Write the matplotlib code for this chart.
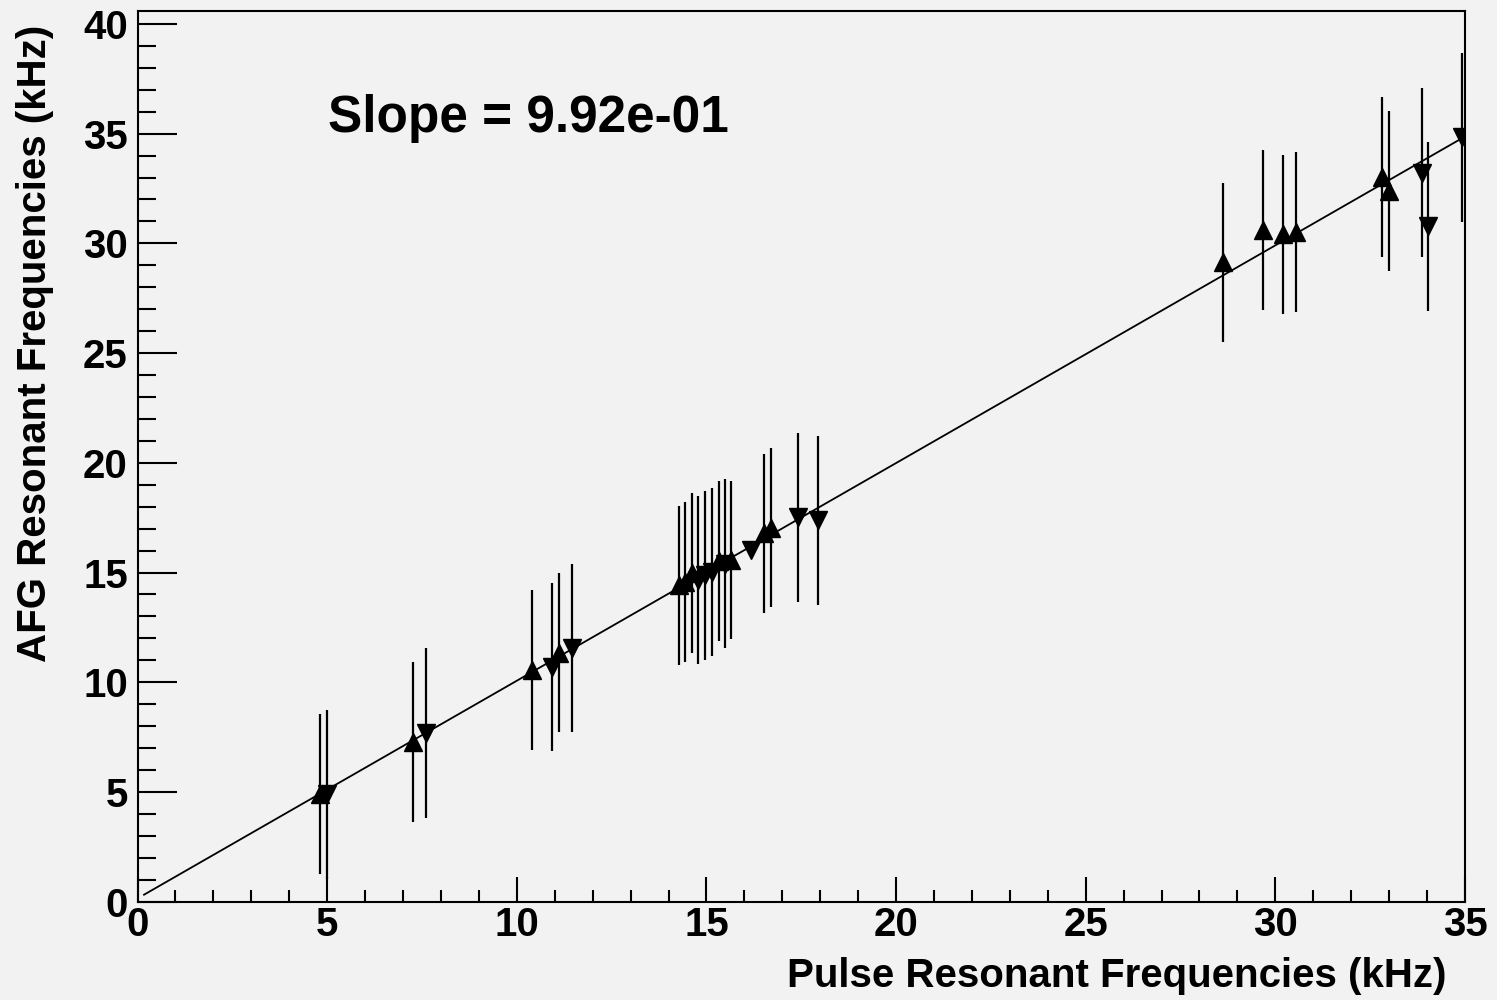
import numpy as np
import matplotlib.pyplot as plt

plt.rcParams['font.family'] = ['Liberation Sans', 'DejaVu Sans']
plt.rcParams['font.weight'] = 'bold'

# puntos "triangulo arriba"
x_up = [4.82, 7.26, 10.40, 11.11, 14.27, 14.44, 14.62, 15.32, 15.65, 16.53, 16.71,
        28.62, 29.68, 30.19, 30.55, 32.82, 33.01]
y_up = [4.91, 7.28, 10.56, 11.34, 14.41, 14.56, 14.98, 15.52, 15.57, 16.79, 17.04,
        29.13, 30.62, 30.42, 30.52, 33.03, 32.38]
e_up = [3.63, 3.63, 3.63, 3.62, 3.63, 3.64, 3.64, 3.63, 3.62, 3.62, 3.63,
        3.64, 3.64, 3.63, 3.64, 3.64, 3.65]

# puntos "triangulo abajo"
x_dn = [4.99, 7.60, 10.93, 11.46, 14.79, 14.97, 15.15, 15.49, 16.18, 17.41, 17.94,
        33.88, 34.03, 34.92]
y_dn = [4.90, 7.68, 10.69, 11.57, 14.66, 14.88, 15.03, 15.40, 16.03, 17.51, 17.38,
        33.23, 30.79, 34.83]
e_dn = [3.85, 3.86, 3.84, 3.84, 3.84, 3.85, 3.84, 3.85, 0.0, 3.84, 3.86,
        3.86, 3.85, 3.84]

slope = 0.992
intercept = 0.15
fit_x = [0.17, 35.0]

bg = '#f2f2f2'
fig = plt.figure(figsize=(14.97, 10), dpi=100, facecolor=bg)
ax = fig.add_axes([0.0919, 0.0983, 0.9786 - 0.0919, 0.989 - 0.0983])
ax.set_facecolor(bg)

xf = np.array(fit_x)
ax.plot(xf, slope * xf + intercept, color='black', lw=1.3, zorder=2)

ax.errorbar(x_up, y_up, yerr=e_up, fmt='^', color='black', ms=13.5, elinewidth=1.6,
            capsize=0, zorder=3)
ax.errorbar(x_dn, y_dn, yerr=e_dn, fmt='v', color='black', ms=13.5, elinewidth=1.6,
            capsize=0, zorder=3)

ax.set_xlim(0, 35)
ax.set_ylim(0, 40.59)
ax.set_xticks(np.arange(0, 36, 5))
ax.set_yticks(np.arange(0, 41, 5))
ax.set_xticks(np.arange(0, 36, 1), minor=True)
ax.set_yticks(np.arange(0, 41, 1), minor=True)
ax.tick_params(which='major', axis='x', length=18, width=1.5, direction='in', labelsize=29, pad=3)
ax.tick_params(which='minor', axis='x', length=9, width=1.5, direction='in')
ax.tick_params(which='major', axis='y', length=28, width=1.5, direction='in', labelsize=29, pad=7)
ax.tick_params(which='minor', axis='y', length=13, width=1.5, direction='in')
for s in ax.spines.values():
    s.set_linewidth(1.5)

ax.set_xlabel('Pulse Resonant Frequencies (kHz)', fontsize=29, fontweight='bold')
ax.xaxis.set_label_coords(0.986, -0.083)
ax.xaxis.label.set_ha('right')
ax.xaxis.label.set_va('center')
ax.set_ylabel('AFG Resonant Frequencies (kHz)', fontsize=29, fontweight='bold')
ax.yaxis.set_label_coords(-0.077, 0.985)
ax.yaxis.label.set_ha('right')
ax.yaxis.label.set_va('center')

ax.text(5.03, 35.7, 'Slope = %.2e' % slope, fontsize=37, fontweight='bold',
        ha='left', va='center')

fig.savefig('out.png', dpi=100, facecolor=bg)
